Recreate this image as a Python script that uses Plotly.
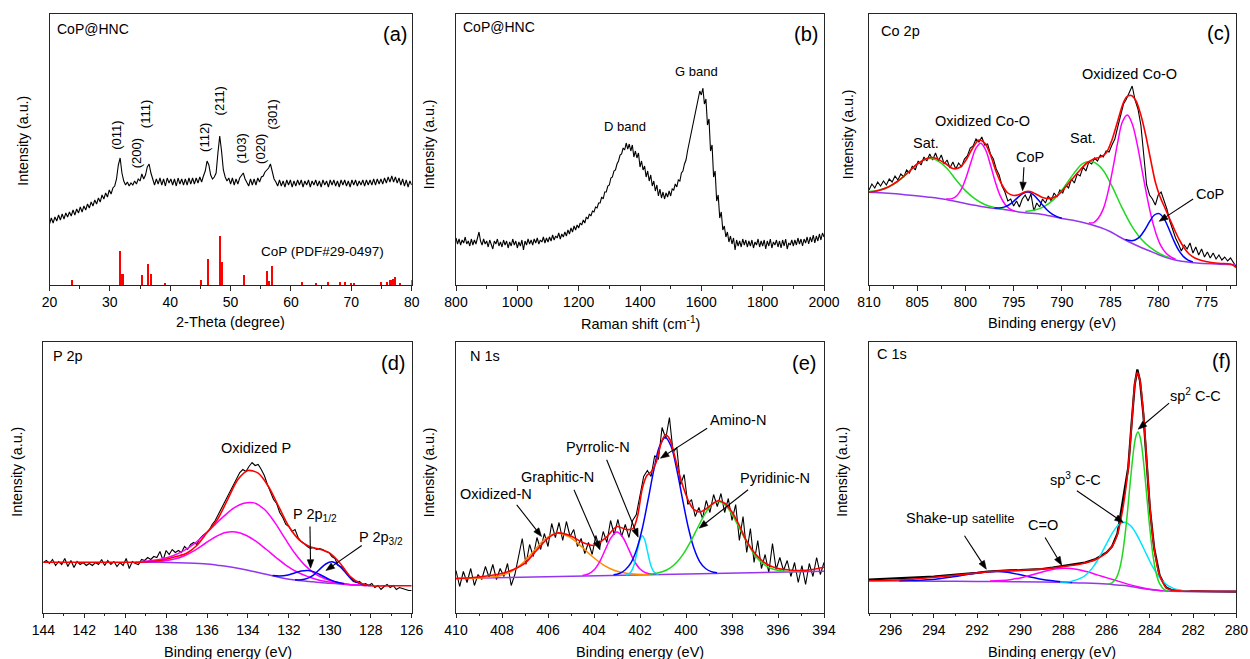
import numpy as np
import plotly.graph_objects as go

W, H = 1250, 659
FONT = "Liberation Sans, Arial, Helvetica, sans-serif"

# ======================= DATA =======================
# ---- (a) XRD, CoP@HNC (intensity in arbitrary units) ----
XRD_X0, XRD_DX = 20.0, 0.3
XRD_Y = [
    61, 67, 62, 68, 64, 70, 65, 71, 66, 72,
    68, 73, 69, 75, 70, 76, 72, 78, 73, 79,
    75, 81, 77, 83, 79, 85, 81, 87, 83, 90,
    86, 92, 88, 95, 91, 97, 99, 106, 120, 127,
    112, 104, 100, 103, 99, 102, 100, 104, 101, 106,
    104, 111, 106, 110, 118, 121, 112, 105, 100, 106,
    101, 107, 100, 106, 99, 107, 102, 106, 100, 106,
    99, 107, 101, 106, 100, 106, 100, 107, 101, 107,
    101, 107, 102, 108, 103, 109, 114, 124, 120, 110,
    106, 108, 112, 132, 149, 134, 115, 108, 104, 107,
    101, 107, 100, 106, 101, 107, 110, 112, 106, 103,
    99, 106, 100, 106, 100, 107, 103, 108, 109, 113,
    115, 117, 121, 113, 106, 103, 99, 105, 99, 104,
    98, 105, 100, 105, 98, 104, 99, 105, 100, 105,
    98, 104, 100, 105, 98, 104, 100, 105, 99, 104,
    98, 105, 100, 104, 98, 105, 100, 105, 99, 104,
    98, 105, 100, 105, 99, 104, 98, 105, 100, 105,
    99, 104, 100, 105, 99, 105, 100, 105, 100, 106,
    100, 106, 101, 106, 101, 107, 102, 108, 103, 109,
    103, 108, 102, 107, 100, 106, 99, 105, 98, 104,
    100,
]
PDF_2THETA = [23.7, 31.6, 32.0, 35.3, 36.3, 36.7, 39.0, 45.0, 46.2, 48.1, 48.4,
              52.2, 56.0, 56.35, 56.8, 61.7, 64.0, 66.0, 68.0, 68.9, 69.8, 70.4,
              74.8, 75.8, 76.4, 76.8, 77.2, 78.0, 79.9]
PDF_INT = [4.7, 34, 11, 10, 21, 11, 2, 5, 26, 49, 23,
           10, 14, 4, 19, 3, 1.3, 3, 3, 3.3, 1.7, 1.3,
           3.3, 3.3, 5, 5.7, 8, 1.7, 5]

# ---- (b) Raman ----
RAMAN_X0, RAMAN_DX = 800, 5
RAMAN_Y = [
    47, 41, 46, 40, 45, 42, 48, 41, 44, 39,
    46, 40, 45, 41, 47, 53, 44, 40, 46, 41,
    44, 38, 45, 40, 36, 44, 41, 46, 39, 43,
    38, 45, 40, 44, 37, 43, 39, 46, 40, 44,
    37, 43, 39, 45, 35, 44, 40, 46, 41, 45,
    40, 46, 42, 47, 41, 45, 43, 48, 42, 47,
    43, 48, 44, 50, 45, 49, 47, 52, 46, 51,
    48, 53, 49, 55, 51, 57, 53, 59, 55, 60,
    57, 62, 60, 65, 62, 68, 66, 71, 69, 74,
    73, 78, 77, 82, 82, 88, 86, 93, 93, 99,
    100, 107, 108, 114, 115, 121, 124, 130, 131, 137,
    135, 142, 136, 141, 134, 140, 128, 134, 127, 132,
    118, 124, 115, 119, 108, 114, 104, 110, 99, 104,
    94, 100, 89, 96, 87, 93, 86, 92, 88, 94,
    89, 96, 95, 101, 98, 105, 104, 112, 114, 121,
    125, 134, 142, 149, 156, 164, 174, 182, 188, 194,
    190, 197, 181, 186, 160, 166, 134, 140, 108, 114,
    84, 90, 67, 73, 55, 59, 48, 53, 43, 49,
    41, 47, 35, 45, 39, 44, 38, 46, 40, 45,
    38, 44, 39, 45, 37, 43, 40, 46, 38, 44,
    39, 45, 36, 44, 39, 46, 37, 43, 40, 45,
    38, 44, 37, 45, 39, 46, 36, 42, 40, 45,
    39, 45, 40, 47, 41, 46, 39, 46, 42, 48,
    41, 48, 43, 50, 42, 49, 44, 51, 45, 52,
    48,
]

# ---- (c) Co 2p ----
CO_RAW_X0, CO_RAW_DX = 810.0, -0.3
CO_RAW_Y = [
    95, 101, 97, 103, 99, 104, 100, 106, 103, 109,
    105, 111, 108, 115, 112, 119, 115, 124, 120, 128,
    124, 131, 125, 132, 124, 130, 121, 125, 117, 123,
    116, 122, 118, 126, 129, 137, 139, 146, 143, 148,
    140, 141, 131, 126, 116, 110, 99, 93, 84, 86,
    79, 84, 78, 86, 90, 84, 91, 74, 82, 78,
    86, 82, 89, 84, 92, 88, 95, 92, 100, 97,
    106, 102, 111, 109, 118, 114, 123, 121, 127, 124,
    130, 128, 134, 133, 140, 146, 158, 170, 181, 186,
    192, 199, 185, 176, 160, 130, 100, 90, 86, 80,
    90, 93, 84, 76, 64, 55, 47, 41, 34, 40,
    36, 42, 32, 38, 30, 36, 28, 33, 27, 32,
    26, 30, 25, 28, 24, 27, 22, 18,
]
CO_BG_X = [810, 808, 806, 804, 802, 800, 798, 796, 794, 792, 790, 788, 786, 785,
           784, 783, 782, 781, 780, 779, 778, 776, 774, 772]
CO_BG_Y = [92.7, 91.7, 90, 88, 85.5, 81.5, 78, 75.5, 72.5, 70.5, 66.5, 63, 57.5, 53.5,
           48, 43, 38.5, 34.5, 30.5, 27, 24.5, 22, 21, 20.3]
CO_SAT1_X = [810, 809, 808, 807, 806, 805, 804, 803.5, 803, 802, 801, 800, 799, 798, 797, 796]
CO_SAT1_Y = [93.5, 94.7, 98, 103.7, 112, 121, 126.1, 126.4, 124.9, 117.5, 105.5, 94.4, 86.1, 80.5, 77.5, 75.7]
CO_OX1_X = [802, 801.4, 800.9, 800.4, 799.9, 799.4, 798.9, 798.4, 797.9, 797.4, 796.9, 796.4, 795.9, 795.4, 794.9]
CO_OX1_Y = [86.1, 86.4, 89.3, 96.2, 108.3, 123.5, 136.8, 141.7, 135, 120, 103.1, 89.4, 80.8, 76.2, 73.9]
CO_COP1_X = [797, 796.5, 796, 795.5, 795, 794.5, 794, 793.5, 793, 792.5, 792, 791.5, 791, 790.5, 790]
CO_COP1_Y = [77.1, 77, 77.9, 80, 83.6, 88.1, 91.7, 93, 90.7, 85.8, 80.1, 74.7, 70.9, 68.4, 66.8]
CO_SAT2_X = [793.8, 792.8, 791.8, 790.8, 789.8, 788.8, 787.8, 786.8, 785.8, 784.8, 783.8,
             782.8, 781.8, 780.8, 779.8, 778.8]
CO_SAT2_Y = [73.6, 74.9, 78.7, 85.9, 97.4, 110.9, 121.7, 123.2, 115.8, 98.9, 78.2,
             59.9, 46.3, 37.3, 31.1, 27.2]
CO_OX2_X = [787.2, 786.7, 786.2, 785.7, 785.2, 784.7, 784.2, 783.7, 783.2, 782.7, 782.2,
            781.7, 781.2, 780.7, 780.2, 779.7, 779.2, 778.7, 778.2]
CO_OX2_Y = [62.3, 62.4, 67, 76.1, 93.2, 116.6, 142.7, 163.5, 170, 161.3, 141.7,
            116.2, 90.2, 67.6, 50.6, 38.9, 32, 28.2, 25.7]
CO_COP2_X = [783.4, 782.9, 782.4, 781.9, 781.4, 780.9, 780.4, 779.9, 779.4, 778.9, 778.4,
             777.9, 777.4, 776.9, 776.4]
CO_COP2_Y = [45.6, 44.4, 45, 48.4, 55, 63.3, 70, 71.4, 66.4, 56.3, 44.7, 35.1, 28.6, 24.9, 23.1]
CO_FIT_X = [810, 809, 808, 807, 806, 805, 804, 803.5, 803, 802,
            801.3, 800.6, 800, 799.3, 798.6, 798, 797.4, 796.8, 796.2, 795.6,
            795, 794.4, 793.8, 793.3, 792.7, 792, 791.3, 790.5, 789.8, 789,
            788.2, 787.4, 786.7, 786, 785.4, 784.8, 784.2, 783.7, 783.3, 782.8,
            782.3, 781.8, 781.3, 780.8, 780.3, 779.8, 779.3, 778.8, 778.3, 777.8,
            777.3, 776.8, 776.2, 775.5, 774.5, 773.5, 772.5, 771.9]
CO_FIT_Y = [92.7, 94.5, 98, 104, 112, 121, 126.5, 127.5, 126.5, 121,
            116.5, 117.5, 124, 136, 145, 142, 130, 113, 100, 92,
            89.5, 90.5, 93.3, 93.5, 91, 87.5, 86.5, 89, 96, 105,
            114, 122, 126, 128, 132, 145, 164, 180, 188, 189.5,
            184, 170, 150, 126, 103, 88, 77, 66, 55, 45,
            37, 31, 27, 24.5, 22.5, 21.5, 21, 17.5]

# ---- (d) P 2p ----
P_RAW_X0, P_RAW_DX = 144.0, -0.15
P_RAW_Y = [
    50, 52, 49, 53, 47, 51, 48, 54, 46, 52,
    45, 51, 48, 50, 47, 49, 47, 50, 48, 53,
    47, 52, 48, 51, 46, 50, 47, 54, 44, 51,
    49, 48, 53, 52, 55, 53, 56, 55, 61, 52,
    62, 58, 63, 60, 62, 60, 66, 63, 68, 70,
    68, 74, 77, 80, 82, 88, 92, 98, 104, 109,
    115, 122, 128, 134, 140, 143, 141, 146, 150, 147,
    148, 143, 137, 128, 121, 113, 109, 100, 95, 88,
    86, 81, 83, 75, 71, 69, 66, 64, 65, 63,
    64, 63, 61, 60, 56, 54, 47, 46, 43, 38,
    34, 31, 30, 31, 28, 29, 27, 29, 25, 27,
    23, 26, 28, 25, 27, 23, 25, 24, 23, 22,
    22,
]
P_BG_X = [139.5, 139, 138, 137, 136, 135.5, 135, 134.5, 134, 133.5, 133, 132.5, 132,
          131.5, 131, 130.5, 130, 129.5, 129, 128.5, 128]
P_BG_Y = [50.3, 50.3, 50, 49.5, 48.5, 47.3, 46, 44.3, 42.3, 40, 37.7, 35.3, 33.3,
          32, 31, 30, 29.3, 28.5, 27.8, 27.2, 26.7]
P_OX1_X = [139.2, 138.7, 138.2, 137.7, 137.2, 136.7, 136.2, 135.7, 135.2, 134.7, 134.2, 133.7,
           133.2, 132.7, 132.2, 131.7, 131.2, 130.7, 130.2, 129.7, 129.2, 128.7, 128.2]
P_OX1_Y = [51.1, 52, 53.6, 56.5, 61.1, 67.7, 76.3, 86, 95.9, 104.3, 109.2, 109.6,
           103.2, 90.4, 74.3, 59, 46.9, 38.5, 33.4, 30.5, 28.6, 27.4, 26.8]
P_OX2_X = [138.6, 138.1, 137.6, 137.1, 136.6, 136.1, 135.6, 135.1, 134.6, 134.1, 133.6,
           133.1, 132.6, 132.1, 131.6, 131.1, 130.6, 130.1, 129.6, 129.1, 128.6]
P_OX2_Y = [50.8, 51.6, 53.4, 56.8, 62.1, 69, 75.5, 80, 80.6, 77.3, 71.1,
           63, 54.5, 46.7, 40.5, 36.1, 32.8, 30.8, 29.4, 28.1, 27.2]
P_12_X = [132.8, 132.45, 132.1, 131.75, 131.4, 131.05, 130.7, 130.35, 130.0, 129.65, 129.3]
P_12_Y = [37.1, 36.6, 37.3, 39.3, 41.5, 42, 40.1, 36.5, 32.9, 30.3, 28.8]
P_32_X = [131.7, 131.4, 131.1, 130.8, 130.5, 130.2, 129.9, 129.6, 129.3, 129.0, 128.7, 128.4, 128.1]
P_32_Y = [32.7, 32.7, 34.1, 37.4, 43.1, 48.5, 50.7, 47.7, 41.4, 34.7, 30.3, 28, 27]
P_FIT_X = [144, 139.5, 139, 138.5, 138, 137.5, 137, 136.5, 136, 135.5, 135, 134.5, 134,
           133.5, 133, 132.5, 132, 131.5, 131, 130.5, 130, 129.5, 129, 128.5, 128, 127, 126]
P_FIT_Y = [50.3, 50.3, 50.5, 51.5, 53.3, 56, 59.3, 67, 80, 92.7, 112.7, 132.7, 142,
           139.3, 126, 106, 86, 72.7, 66, 63.3, 59.3, 49.3, 36, 29.3, 26.8, 26.7, 26.7]

# ---- (e) N 1s ----
N_RAW_X0, N_RAW_DX = 410.0, -0.16
N_RAW_Y = [
    42, 26, 41, 30, 44, 27, 38, 33, 46, 35,
    48, 33, 44, 36, 49, 27, 38, 55, 74, 48,
    68, 56, 75, 63, 79, 66, 89, 75, 90, 72,
    91, 76, 83, 66, 74, 59, 70, 58, 77, 64,
    81, 70, 92, 78, 93, 76, 88, 75, 92, 98,
    118, 136, 142, 136, 157, 153, 185, 174, 195, 160,
    165, 128, 138, 108, 113, 96, 105, 94, 112, 100,
    118, 106, 119, 100, 114, 92, 108, 72, 96, 60,
    84, 50, 72, 44, 58, 40, 69, 43, 55, 42,
    52, 36, 50, 30, 47, 28, 49, 36, 55, 38,
    50,
]
N_BG_X = [410, 394]
N_BG_Y = [34, 41.3]
N_OXI_X = [410, 409.6, 409.1, 408.6, 408.1, 407.6, 407.1, 406.6, 406.1, 405.6, 405.1, 404.6,
           404.1, 403.6, 403.1, 402.6, 402.1, 401.6]
N_OXI_Y = [34, 34.2, 34.5, 35.1, 36.8, 41, 49.4, 61.9, 74, 79.3, 75.9, 67.1,
           56.5, 47.7, 42, 39.3, 38.2, 37.8]
N_GRA_X = [404.5, 404.25, 404.0, 403.75, 403.5, 403.25, 403.0, 402.75, 402.5, 402.25, 402.0, 401.75, 401.5]
N_GRA_Y = [37, 38.5, 42.5, 50.9, 63.2, 75.1, 80.4, 75.3, 63.6, 51.5, 43.5, 39.7, 38.4]
N_PYR_X = [402.6, 402.5, 402.4, 402.3, 402.2, 402.1, 402.0, 401.9, 401.8, 401.7, 401.6, 401.5, 401.4, 401.3, 401.2]
N_PYR_Y = [37.6, 38.3, 40.5, 44.9, 53, 63.4, 72.9, 76.7, 73, 63.6, 53.2, 45.3, 40.9, 38.9, 38.2]
N_AMI_X = [403.15, 402.9, 402.65, 402.4, 402.15, 401.9, 401.65, 401.4, 401.15, 400.9,
           400.65, 400.4, 400.15, 399.9, 399.65, 399.4, 399.15, 398.9, 398.65]
N_AMI_Y = [37.7, 39, 42.5, 49.4, 62.8, 84, 112.5, 142.4, 166.1, 175.1,
           166.4, 142.9, 113.2, 85, 63.9, 50.7, 44, 40.9, 39.8]
N_PYD_X = [401.6, 401.3, 401.0, 400.7, 400.4, 400.1, 399.8, 399.5, 399.2, 398.9, 398.6,
           398.3, 398.0, 397.7, 397.4, 397.1, 396.8, 396.5, 396.2, 395.9, 395.6, 395.0]
N_PYD_Y = [38.3, 39.3, 41, 44.4, 50.3, 59.1, 71, 84.5, 97.6, 107.3, 110.9,
           107.5, 98.2, 85.3, 72, 60.5, 51.9, 46.4, 43.2, 41.7, 41.1, 40.9]
N_FIT_X = [410, 409.5, 409, 408.5, 408, 407.5, 407, 406.5, 406, 405.6,
           405, 404.5, 404, 403.5, 403, 402.6, 402.3, 402.1, 401.9, 401.7,
           401.5, 401.3, 401.1, 400.9, 400.7, 400.5, 400.3, 400.1, 399.9, 399.7,
           399.4, 399.1, 398.8, 398.6, 398.3, 398, 397.7, 397.4, 397, 396.5,
           396, 395.5, 395, 394.5, 394]
N_FIT_Y = [34, 34.5, 35.5, 37, 39, 43, 49.3, 62, 74.3, 79.5,
           76.5, 70, 67, 74.5, 86, 83, 84, 97, 124, 137,
           141, 150, 168, 177.7, 173, 157, 139.3, 124, 112, 104,
           100.5, 104, 109.5, 111.7, 109, 100.5, 88, 73, 59, 48.5,
           44, 42.5, 42, 43, 45.3]

# ---- (f) C 1s ----
C_RAW_X = [297, 296.5, 296, 295.5, 295, 294.5, 294, 293.5, 293, 292.5, 292, 291.5, 291,
           290.5, 290, 289.5, 289, 288.5, 288, 287.5, 287, 286.5, 286, 285.75, 285.5,
           285.25, 285.0, 284.85, 284.7, 284.58, 284.46, 284.3, 284.15, 284.0, 283.8,
           283.55, 283.25, 283, 282.5, 282, 281, 280]
C_RAW_Y = [33, 33.5, 33.8, 34.3, 34.5, 35.3, 35.8, 36.8, 37.5, 38.8, 39.6, 41, 41.8,
           42.2, 42.3, 42.8, 43.5, 44.8, 46.3, 48, 50, 53.5, 60, 66, 79,
           112, 145, 188, 228, 243, 232, 198, 150, 104, 64,
           37, 25, 22.5, 21.5, 21.2, 21, 20.8]
C_BG_X = [297, 295, 293, 291, 289, 288, 287, 286, 285.5, 285, 284.5, 284, 283.5, 283, 282, 280]
C_BG_Y = [31.7, 31.5, 31.2, 31, 30.5, 30, 29.5, 28.5, 27.5, 26.5, 24.5, 23, 21.8, 21.2, 21, 21]
C_SHK_X = [295.6, 295.1, 294.6, 294.1, 293.6, 293.1, 292.6, 292.1, 291.6, 291.1, 290.6,
           290.1, 289.6, 289.1, 288.6, 288.1, 287.6]
C_SHK_Y = [31.7, 31.9, 32.3, 33, 34.3, 35.8, 37.5, 39.3, 40.5, 41, 40.2,
           38.2, 35.7, 33.6, 31.9, 30.7, 30.1]
C_CO_X = [291.4, 290.9, 290.4, 289.9, 289.4, 288.9, 288.4, 287.9, 287.4, 286.9, 286.4,
          285.9, 285.4, 284.9, 284.4, 283.9, 283.4]
C_CO_Y = [31.4, 31.9, 33.1, 35.1, 38, 41.1, 43.6, 44.3, 43.2, 40.7, 37.4,
          34.1, 30.9, 27.6, 25, 23, 21.7]
C_SP3_X = [288.15, 287.65, 287.15, 286.9, 286.65, 286.4, 286.15, 285.9, 285.65, 285.4, 285.15,
           284.9, 284.65, 284.4, 284.15, 283.9, 283.65, 283.4, 283.15, 282.65, 282.15]
C_SP3_Y = [30.4, 31.1, 34.8, 38.8, 44.9, 53, 62.8, 73.2, 82.4, 88.6, 90.3,
           87, 79.5, 69.1, 57.8, 46.9, 38, 31.2, 26.7, 22.4, 21.3]
C_SP2_X = [285.95, 285.75, 285.55, 285.45, 285.35, 285.25, 285.15, 285.05, 284.95, 284.85,
           284.75, 284.65, 284.55, 284.45, 284.35, 284.25, 284.15, 284.05, 283.95, 283.85,
           283.75, 283.65, 283.55, 283.35, 283.15]
C_SP2_Y = [28.5, 29.7, 34.6, 39.9, 48.3, 60.6, 77.3, 97.7, 120.7, 143.3,
           163, 176.1, 180.6, 175.5, 161.7, 141.4, 118.1, 94.5, 73.5, 56.2,
           43.4, 34.5, 28.8, 23.2, 21.6]
C_FIT_X = [297, 296, 295, 294, 293, 292, 291, 290, 289, 288,
           287.2, 286.5, 286, 285.7, 285.5, 285.3, 285.15, 285.0, 284.85, 284.7,
           284.58, 284.46, 284.3, 284.15, 284.0, 283.8, 283.55, 283.25, 283.0, 282.5,
           282, 280]
C_FIT_Y = [31.7, 32.2, 33.3, 35.2, 37.3, 39.5, 41.5, 42.2, 43.4, 46,
           48.5, 53, 60, 68, 78, 98, 118, 145, 186, 228,
           240, 232, 199, 152, 106, 64, 37, 25, 22.5, 21.5,
           21.2, 21]

# ======================= STYLE / LAYOUT =======================
BLACK, RED, GREEN, MAG, BLUE = "#000000", "#FF0000", "#1FD81F", "#FF00FF", "#0000FF"
PURPLE, CYAN, ORANGE = "#9436F0", "#00E5FF", "#FF8C00"
AXC = "#262626"


def px(x):
    return x / W


def py(y):
    return 1 - y / H


ROW1 = [py(285), py(14)]
ROW2 = [py(612.5), py(342)]
DOMS = {
    1: ([px(49.5), px(411.7)], ROW1),
    2: ([px(456), px(824)], ROW1),
    3: ([px(869), px(1236.3)], ROW1),
    4: ([px(43.3), px(411.7)], ROW2),
    5: ([px(456), px(824)], ROW2),
    6: ([px(869), px(1236.3)], ROW2),
}
XR = {1: [20, 80], 2: [800, 2000], 3: [810, 771.9], 4: [144, 126], 5: [410, 394], 6: [297, 280]}
YR = {1: [0, 271], 2: [0, 271], 3: [0, 271], 4: [0, 270.5], 5: [0, 270.5], 6: [0, 270.5]}
DT = {1: (10, 5), 2: (200, 100), 3: (5, 2.5), 4: (2, 1), 5: (2, 1), 6: (2, 1)}
# signed pixels per data unit (used only to shape arrowheads)
XS = {i: (DOMS[i][0][1] - DOMS[i][0][0]) * W / (XR[i][1] - XR[i][0]) for i in DOMS}
YS = {i: (DOMS[i][1][1] - DOMS[i][1][0]) * H / (YR[i][1] - YR[i][0]) for i in DOMS}


def ref(i):
    return ("x" if i == 1 else f"x{i}"), ("y" if i == 1 else f"y{i}")


fig = go.Figure()


def add_line(i, xs, ys, color, width=1.5, shape="spline", smoothing=1.0):
    xr, yr = ref(i)
    fig.add_trace(go.Scatter(x=xs, y=ys, xaxis=xr, yaxis=yr, mode="lines",
                             line=dict(color=color, width=width, shape=shape,
                                       smoothing=smoothing if shape == "spline" else None),
                             hoverinfo="skip", showlegend=False))


# (a)
xrd_x = XRD_X0 + XRD_DX * np.arange(len(XRD_Y))
add_line(1, xrd_x, XRD_Y, BLACK, 1.1, "linear")
fig.add_trace(go.Bar(x=PDF_2THETA, y=PDF_INT, width=0.35, xaxis="x", yaxis="y",
                     marker=dict(color=RED, line=dict(width=0)), hoverinfo="skip",
                     showlegend=False))
# (b)
raman_x = RAMAN_X0 + RAMAN_DX * np.arange(len(RAMAN_Y))
add_line(2, raman_x, RAMAN_Y, BLACK, 1.1, "linear")
# (c)
add_line(3, CO_RAW_X0 + CO_RAW_DX * np.arange(len(CO_RAW_Y)), CO_RAW_Y, BLACK, 1.1, "linear")
add_line(3, CO_BG_X, CO_BG_Y, PURPLE)
add_line(3, CO_SAT1_X, CO_SAT1_Y, GREEN)
add_line(3, CO_SAT2_X, CO_SAT2_Y, GREEN)
add_line(3, CO_OX1_X, CO_OX1_Y, MAG)
add_line(3, CO_OX2_X, CO_OX2_Y, MAG)
add_line(3, CO_COP1_X, CO_COP1_Y, BLUE)
add_line(3, CO_COP2_X, CO_COP2_Y, BLUE)
add_line(3, CO_FIT_X, CO_FIT_Y, RED, 1.6, "spline", 0.8)
# (d)
add_line(4, P_RAW_X0 + P_RAW_DX * np.arange(len(P_RAW_Y)), P_RAW_Y, BLACK, 1.1, "linear")
add_line(4, P_BG_X, P_BG_Y, PURPLE)
add_line(4, P_OX1_X, P_OX1_Y, MAG)
add_line(4, P_OX2_X, P_OX2_Y, MAG)
add_line(4, P_12_X, P_12_Y, BLUE)
add_line(4, P_32_X, P_32_Y, BLUE)
add_line(4, P_FIT_X, P_FIT_Y, RED, 1.6, "spline", 0.8)
# (e)
add_line(5, N_RAW_X0 + N_RAW_DX * np.arange(len(N_RAW_Y)), N_RAW_Y, BLACK, 1.1, "linear")
add_line(5, N_BG_X, N_BG_Y, PURPLE, 1.5, "linear")
add_line(5, N_OXI_X, N_OXI_Y, ORANGE)
add_line(5, N_GRA_X, N_GRA_Y, MAG)
add_line(5, N_PYR_X, N_PYR_Y, CYAN)
add_line(5, N_AMI_X, N_AMI_Y, BLUE)
add_line(5, N_PYD_X, N_PYD_Y, GREEN)
add_line(5, N_FIT_X, N_FIT_Y, RED, 1.6, "spline", 0.8)
# (f)
add_line(6, C_RAW_X, C_RAW_Y, BLACK, 2.2, "linear")
add_line(6, C_BG_X, C_BG_Y, PURPLE)
add_line(6, C_SHK_X, C_SHK_Y, BLUE)
add_line(6, C_CO_X, C_CO_Y, MAG)
add_line(6, C_SP3_X, C_SP3_Y, CYAN)
add_line(6, C_SP2_X, C_SP2_Y, GREEN, 1.5, "spline", 0.8)
add_line(6, C_FIT_X, C_FIT_Y, RED, 1.6, "spline", 0.6)

layout = dict(width=W, height=H, autosize=False, margin=dict(l=0, r=0, t=0, b=0, pad=0),
              paper_bgcolor="white", plot_bgcolor="white", template="none",
              font=dict(family=FONT, size=14, color="black"), showlegend=False,
              bargap=0)
for i in range(1, 7):
    xk = "xaxis" if i == 1 else f"xaxis{i}"
    yk = "yaxis" if i == 1 else f"yaxis{i}"
    xr, yr = ref(i)
    dx, dy = DOMS[i]
    layout[xk] = dict(domain=dx, range=XR[i], anchor=yr, showline=True, linecolor=AXC,
                      linewidth=1.3, mirror=True, ticks="outside", ticklen=4.5, tickwidth=1.2,
                      tickcolor=AXC, tick0=0, dtick=DT[i][0], showgrid=False, zeroline=False,
                      tickfont=dict(family=FONT, size=14, color="black"),
                      minor=dict(tick0=0, dtick=DT[i][1], ticks="outside", ticklen=2.5,
                                 tickwidth=1.1, tickcolor=AXC, showgrid=False),
                      fixedrange=True)
    layout[yk] = dict(domain=dy, range=YR[i], anchor=xr, showline=True, linecolor=AXC,
                      linewidth=1.3, mirror=True, ticks="", showticklabels=False,
                      showgrid=False, zeroline=False, fixedrange=True)

ann = []
shapes = []


def ptext(x, y, text, size=14.5, xanchor="center", angle=0):
    ann.append(dict(xref="paper", yref="paper", x=px(x), y=py(y), text=text, showarrow=False,
                    xanchor=xanchor, yanchor="middle", textangle=angle,
                    font=dict(family=FONT, size=size, color="black")))


def dtext(i, x, y, text, size=14.5, angle=0):
    xr, yr = ref(i)
    ann.append(dict(xref=xr, yref=yr, x=x, y=y, text=text, showarrow=False,
                    xanchor="center", yanchor="middle", textangle=angle,
                    font=dict(family=FONT, size=size, color="black")))


def arrow(i, xh, yh, xt, yt, L=8.5, hw=3.2):
    """Arrow from tail (xt, yt) to head (xh, yh): a line plus a filled triangular head."""
    xr, yr = ref(i)
    sx, sy = XS[i], YS[i]
    dxp, dyp = (xh - xt) * sx, (yh - yt) * sy
    n = float(np.hypot(dxp, dyp))
    ux, uy = dxp / n, dyp / n
    bx, by = xh - L * ux / sx, yh - L * uy / sy
    nx, ny = -uy, ux
    v1 = (bx + hw * nx / sx, by + hw * ny / sy)
    v2 = (bx - hw * nx / sx, by - hw * ny / sy)
    shapes.append(dict(type="line", xref=xr, yref=yr, x0=xt, y0=yt, x1=bx, y1=by,
                       line=dict(color="black", width=1.1), layer="above"))
    shapes.append(dict(type="path", xref=xr, yref=yr,
                       path=f"M {xh},{yh} L {v1[0]},{v1[1]} L {v2[0]},{v2[1]} Z",
                       fillcolor="black", line=dict(color="black", width=0.6), layer="above"))


# axis titles
ptext(230.3, 321.7, "2-Theta (degree)")
ptext(640, 322.5, "Raman shift (cm<sup>-1</sup>)")
ptext(1052, 322.5, "Binding energy (eV)")
ptext(227.5, 651.7, "Binding energy (eV)")
ptext(639.7, 651.7, "Binding energy (eV)")
ptext(1052.3, 651.7, "Binding energy (eV)")
for (xc, yc) in [(23.3, 140.4), (429.3, 144), (848.3, 134), (16.7, 472), (429.3, 472), (841.7, 472)]:
    ptext(xc, yc, "Intensity (a.u.)", 14.2, "center", -90)

# panel names and letters
ptext(55, 29.3, "CoP@HNC", 14, "left")
ptext(460.7, 27.3, "CoP@HNC", 14, "left")
ptext(879.3, 30.7, "Co 2p", 14.5, "left")
ptext(50.7, 356, "P 2p", 14.5, "left")
ptext(467.7, 356, "N 1s", 14.5, "left")
ptext(875, 354, "C 1s", 14.5, "left")
ptext(395, 34.2, "(a)", 20)
ptext(805.5, 34, "(b)", 20)
ptext(1218.3, 33.3, "(c)", 20)
ptext(392.5, 362.5, "(d)", 20)
ptext(804.5, 362.5, "(e)", 20)
ptext(1221.7, 360.8, "(f)", 20)

# (a) peak indices
for lab, xx, yy in [("(011)", 31.16, 150), ("(200)", 34.53, 132), ("(111)", 35.9, 171.3),
                    ("(112)", 45.7, 147.7), ("(211)", 48.2, 184.3), ("(103)", 51.77, 136.7),
                    ("(020)", 54.97, 135.7), ("(301)", 56.96, 170)]:
    dtext(1, xx, yy, lab, 13, -90)
dtext(1, 65.19, 33.7, "CoP (PDF#29-0497)", 13.5)
# (b)
dtext(2, 1351.7, 158.7, "D band", 13)
dtext(2, 1583, 213.3, "G band", 13)
# (c)
dtext(3, 804.06, 142, "Sat.")
dtext(3, 798.18, 164, "Oxidized Co-O")
dtext(3, 793.34, 128.3, "CoP")
dtext(3, 787.85, 146.7, "Sat.")
dtext(3, 782.98, 210.7, "Oxidized Co-O")
dtext(3, 774.65, 90.7, "CoP")
arrow(3, 794.07, 94.3, 793.93, 117.7)
arrow(3, 779.9, 63.7, 776.38, 86)
# (d)
dtext(4, 133.62, 164.3, "Oxidized P")
dtext(4, 130.74, 97.5, "P 2p<sub>1/2</sub>")
dtext(4, 127.48, 74.5, "P 2p<sub>3/2</sub>")
arrow(4, 130.94, 44.3, 130.97, 86)
arrow(4, 130.19, 42, 128.44, 67)
# (e)
dtext(5, 408.28, 118.7, "Oxidized-N")
dtext(5, 405.6, 136, "Graphitic-N")
dtext(5, 403.82, 165.3, "Pyrrolic-N")
dtext(5, 397.72, 192.7, "Amino-N")
dtext(5, 396.13, 134.3, "Pyridinic-N")
arrow(5, 406.28, 76, 407.36, 107.7)
arrow(5, 403.74, 62.7, 404.87, 122.7)
arrow(5, 402.08, 75.3, 403.45, 152.7)
arrow(5, 401.11, 154.3, 399.08, 184.3)
arrow(5, 399.43, 84.3, 397.3, 122.7)
# (f)
dtext(6, 281.89, 217.3, "sp<sup>2</sup> C-C")
dtext(6, 287.43, 133.3, "sp<sup>3</sup> C-C")
dtext(6, 292.77, 94.3, 'Shake-up <span style="font-size:12.5px">satellite</span>')
dtext(6, 288.97, 87.3, "C=O")
arrow(6, 284.54, 183.3, 283.11, 209.3)
arrow(6, 285.23, 90, 287.38, 121.7)
arrow(6, 291.57, 43.3, 292.58, 76.7)
arrow(6, 288.08, 47.3, 288.85, 75)

layout["annotations"] = ann
layout["shapes"] = shapes
fig.update_layout(**layout)

fig.write_html("out.html", config={"displayModeBar": False},
               post_script="document.body.style.margin='0';document.body.style.overflow='hidden';")
